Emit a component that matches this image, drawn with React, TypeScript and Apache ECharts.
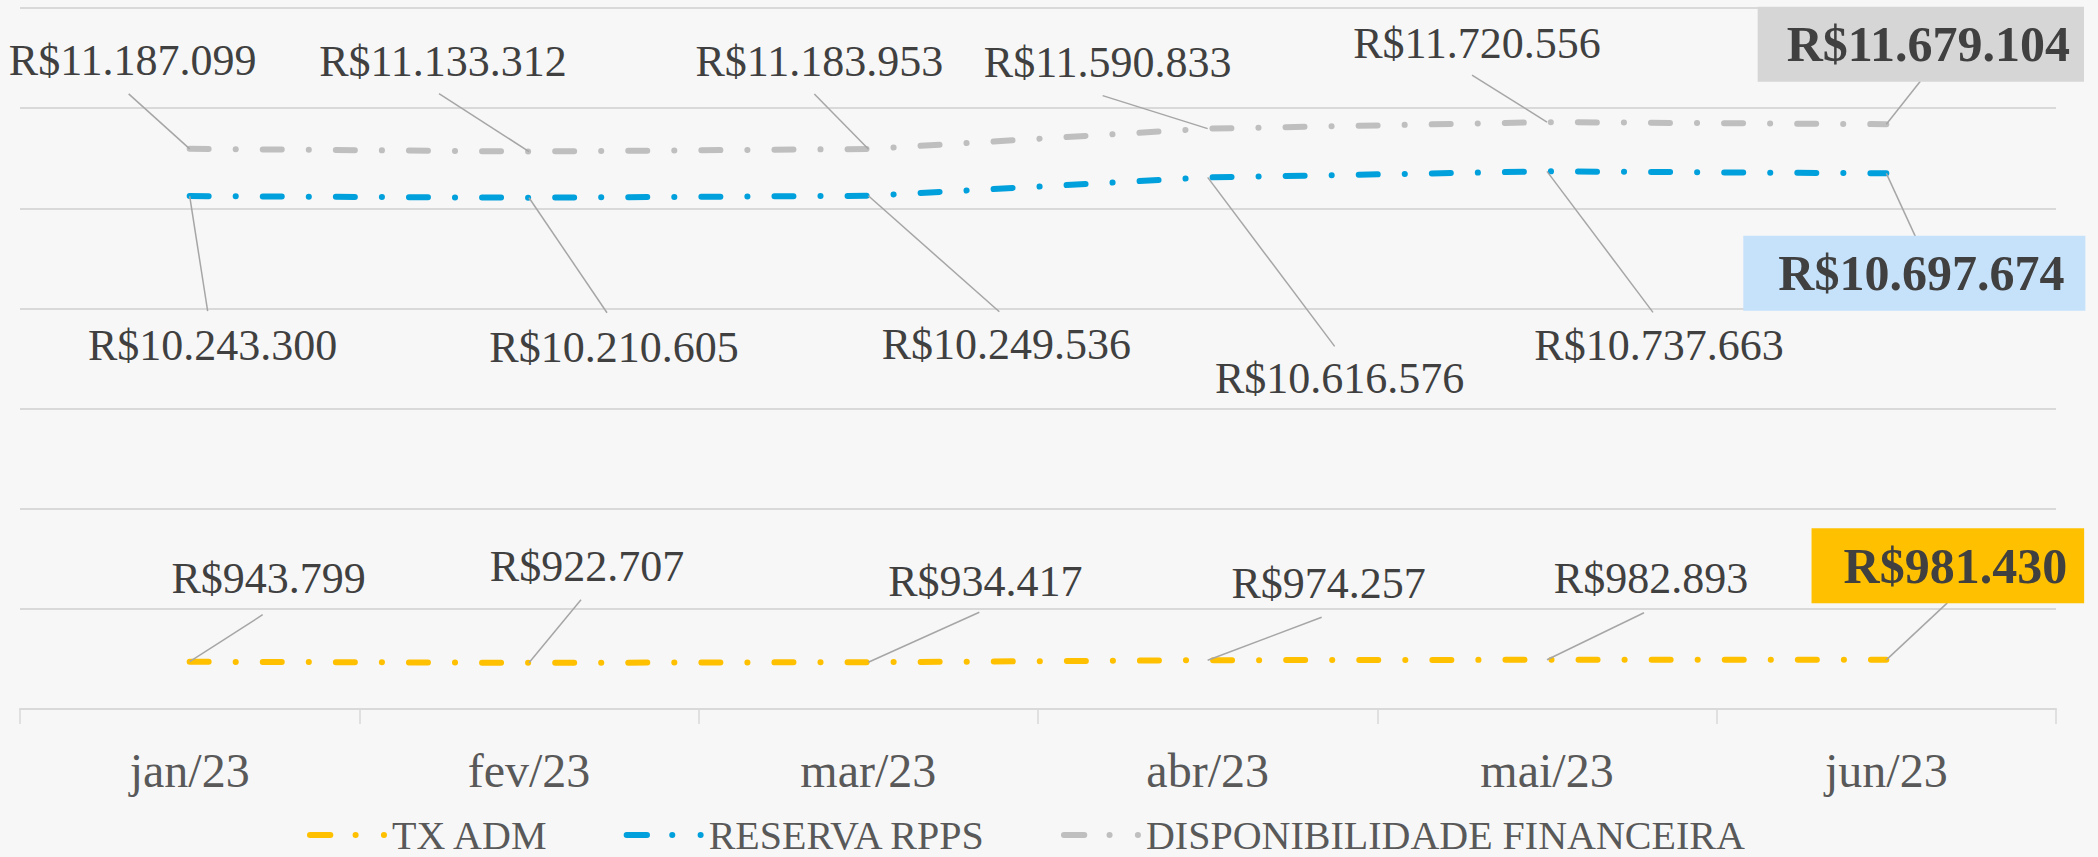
import React, { useEffect, useRef } from "react";
import * as echarts from "echarts";

// ---- data ----
const categories = ["jan/23", "fev/23", "mar/23", "abr/23", "mai/23", "jun/23"];
const seriesNames = ["TX ADM", "RESERVA RPPS", "DISPONIBILIDADE FINANCEIRA"];
const txAdm = [943799, 922707, 934417, 974257, 982893, 981430];
const reservaRpps = [10243300, 10210605, 10249536, 10616576, 10737663, 10697674];
const disponibilidade = [11187099, 11133312, 11183953, 11590833, 11720556, 11679104];

// ---- styling / label layout (offsets from each point, px) ----
const COLORS = ["#FFC000", "#00A0DC", "#BFBFBF"];
const BOX_COLORS = ["#FFC000", "#C6E2FA", "#D6D6D6"];
const BOX_PADDING = [
  [12, 17, 13, 32],
  [12, 21, 13, 35],
  [12, 14, 13, 29],
];
const LABEL_POS = [
  [[79, -83], [58, -96], [117, -81], [121, -77], [104, -81], [61.5, -94]],
  [[23, 149], [85, 150], [138, 149], [132, 201], [112, 174], [28, 100]],
  [[-57, -88], [-86, -90], [-49, -88], [-100, -66], [-70, -79], [34.5, -80]],
];
const LEADER_END = [
  [[73, -47], [52, -63], [111, -50], [114, -43], [97, -47], [61, -57]],
  [[18, 115], [78, 115], [131, 116], [127, 169], [106, 141], [29, 63]],
  [[-61, -55], [-90, -58], [-54, -55], [-105, -33], [-75, -47], [34, -43]],
];
const FONT = '"Liberation Serif", "Times New Roman", serif';

const fmt = (v: number) => "R$" + String(v).replace(/\B(?=(\d{3})+(?!\d))/g, ".");

const LEGEND_ICON =
  "path://M3,1 h20 a3,3 0 0 1 0,6 h-20 a3,3 0 0 1 0,-6 z M48,1 a3,3 0 1 1 0,6 a3,3 0 1 1 0,-6 z M76,1 a3,3 0 1 1 0,6 a3,3 0 1 1 0,-6 z";

export default function App() {
  const ref = useRef<HTMLDivElement>(null);

  useEffect(() => {
    if (!ref.current) return;
    const chart = echarts.init(ref.current, null, { renderer: "svg" });
    const allValues = [txAdm, reservaRpps, disponibilidade];

    const lineSeries = allValues.map((vals, s) => ({
      name: seriesNames[s],
      type: "line",
      data: vals,
      color: COLORS[s],
      symbol: "none",
      itemStyle: { color: COLORS[s] },
      lineStyle: { color: COLORS[s], width: 6, type: [19, 27, 0.1, 27], cap: "round" },
      z: 2,
    }));

    const labelSeries = allValues.map((vals, s) => ({
      name: seriesNames[s] + " labels",
      type: "custom",
      data: vals.map((v, i) => [i, v]),
      encode: { x: 0, y: 1 },
      z: 5,
      silent: true,
      renderItem: (params: any, api: any) => {
        const i = params.dataIndex;
        const v = api.value(1);
        const p = api.coord([api.value(0), v]);
        const lab = LABEL_POS[s][i];
        const ld = LEADER_END[s][i];
        const isLast = i === vals.length - 1;
        const textStyle: any = {
          text: fmt(v),
          font: (isLast ? "bold 50px " : "normal 44px ") + FONT,
          fill: "#404040",
          align: "center",
          verticalAlign: "middle",
        };
        if (isLast) {
          textStyle.backgroundColor = BOX_COLORS[s];
          textStyle.padding = BOX_PADDING[s];
        }
        return {
          type: "group",
          children: [
            {
              type: "line",
              shape: { x1: p[0], y1: p[1], x2: p[0] + ld[0], y2: p[1] + ld[1] },
              style: { stroke: "#A6A6A6", lineWidth: 1.5 },
            },
            {
              type: "text",
              x: p[0] + lab[0],
              y: p[1] + lab[1],
              style: textStyle,
            },
          ],
        };
      },
    }));

    chart.setOption({
      animation: false,
      backgroundColor: "#F7F7F7",
      grid: { left: 20, right: 42, top: 8, bottom: 148, containLabel: false },
      legend: {
        data: seriesNames,
        left: 307,
        top: 815,
        padding: 0,
        itemWidth: 80,
        itemHeight: 8,
        itemGap: 75,
        icon: LEGEND_ICON,
        itemStyle: { borderWidth: 0 },
        textStyle: { fontFamily: FONT, fontSize: 40, color: "#595959" },
      },
      xAxis: {
        type: "category",
        data: categories,
        boundaryGap: true,
        axisLine: { show: true, lineStyle: { color: "#D9D9D9", width: 2 } },
        axisTick: { show: true, length: 15, lineStyle: { color: "#D9D9D9", width: 1.5 } },
        axisLabel: { margin: 37, fontFamily: FONT, fontSize: 48, color: "#595959" },
        splitLine: { show: false },
      },
      yAxis: {
        type: "value",
        min: 0,
        max: 14000000,
        interval: 2000000,
        axisLine: { show: false },
        axisTick: { show: false },
        axisLabel: { show: false },
        splitLine: { show: true, lineStyle: { color: "#D9D9D9", width: 2 } },
      },
      series: [...lineSeries, ...labelSeries],
    });

    return () => chart.dispose();
  }, []);

  return (
    <div
      ref={ref}
      style={{ position: "absolute", left: 0, top: 0, width: 2098, height: 857 }}
    />
  );
}
